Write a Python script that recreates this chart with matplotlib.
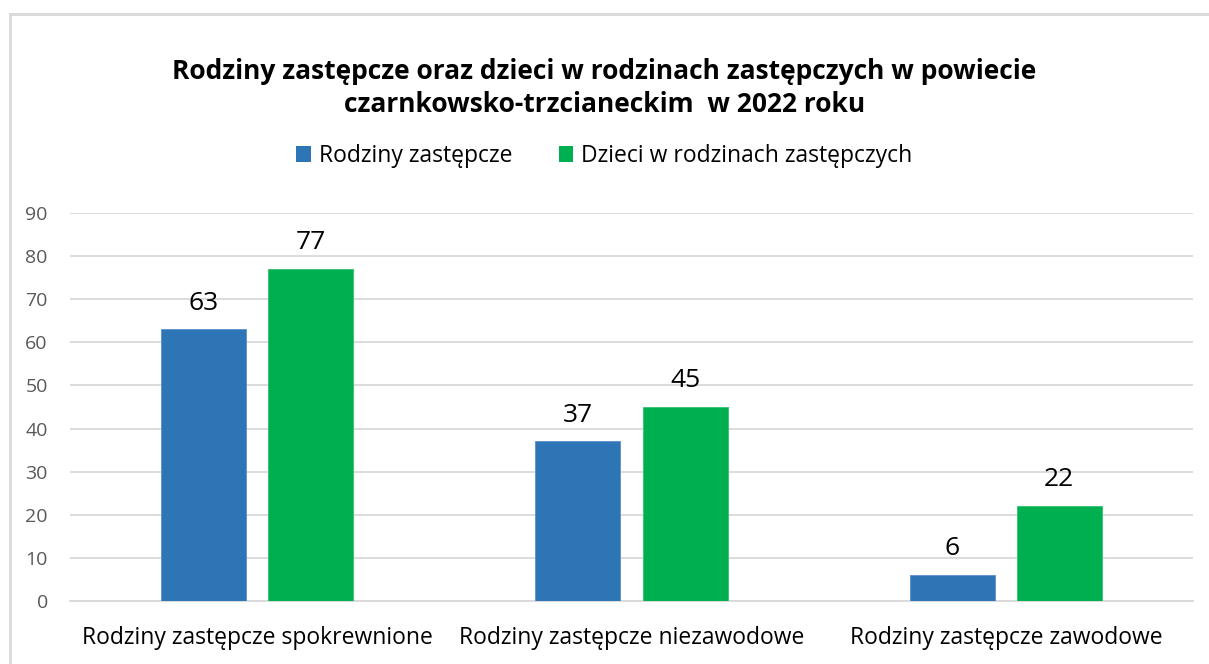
import matplotlib
matplotlib.use("Agg")
import matplotlib.pyplot as plt
from matplotlib.lines import Line2D
from matplotlib.patches import Patch
import numpy as np

categories = ["Rodziny zastępcze spokrewnione", "Rodziny zastępcze niezawodowe", "Rodziny zastępcze zawodowe"]
series_names = ["Rodziny zastępcze", "Dzieci w rodzinach zastępczych"]
rodziny = [63, 37, 6]
dzieci = [77, 45, 22]
yticks = [0, 10, 20, 30, 40, 50, 60, 70, 80, 90]
title = "Rodziny zastępcze oraz dzieci w rodzinach zastępczych w powiecie\nczarnkowsko-trzcianeckim  w 2022 roku"

BLUE = "#2E75B6"
GREEN = "#00B050"
FONT = ["Open Sans", "DejaVu Sans"]
plt.rcParams['font.family'] = FONT

W, H = 1209, 664
fig = plt.figure(figsize=(W/100, H/100), dpi=100)
fig.patch.set_facecolor("white")

# outer frame (top and left visible)
fig.add_artist(Line2D([10/W, 10/W], [0, 1 - 14/H], transform=fig.transFigure, color="#D9D9D9", lw=2))
fig.add_artist(Line2D([10/W, 1], [1 - 14/H, 1 - 14/H], transform=fig.transFigure, color="#D9D9D9", lw=2))

left, right = 70/W, 1193/W
bottom, top = 1 - 601/H, 1 - 213/H
ax = fig.add_axes([left, bottom, right - left, top - bottom])

x = np.arange(len(categories))
bw = 0.227
off = 0.143
b1 = ax.bar(x - off, rodziny, bw, color=BLUE, edgecolor="#5B8FD0", linewidth=0.6, zorder=3)
b2 = ax.bar(x + off, dzieci, bw, color=GREEN, edgecolor="#33C070", linewidth=0.6, zorder=3)
for bars in (b1, b2):
    ax.bar_label(bars, padding=10, fontsize=19, color="black")

ax.set_xlim(-0.5, len(categories) - 0.5)
ax.set_ylim(0, 90)
ax.set_yticks(yticks)
ax.set_yticklabels([str(v) for v in yticks])
ax.yaxis.grid(True, color="#D9D9D9", lw=1.3, zorder=0)
ax.set_xticks(x)
ax.set_xticklabels(categories, fontsize=16.5, color="black")
ax.tick_params(axis="y", length=0, pad=16, labelsize=14, labelcolor="#595959")
ax.tick_params(axis="x", length=0, pad=18)
for s in ax.spines.values():
    s.set_visible(False)
ax.spines["bottom"].set_visible(True)
ax.spines["bottom"].set_color("#D9D9D9")
ax.spines["bottom"].set_linewidth(1.3)

fig.text(0.5, 1 - 88/H, title, ha="center", va="center", fontsize=19, fontweight="bold", linespacing=1.3)

handles = [Patch(facecolor=BLUE), Patch(facecolor=GREEN)]
fig.legend(handles, series_names, loc="center", bbox_to_anchor=(0.5, 1 - 156/H), ncol=2, frameon=False,
           fontsize=16.5, handlelength=0.65, handleheight=0.65, handletextpad=0.35, columnspacing=2.0)

fig.savefig("out.png", dpi=100)
